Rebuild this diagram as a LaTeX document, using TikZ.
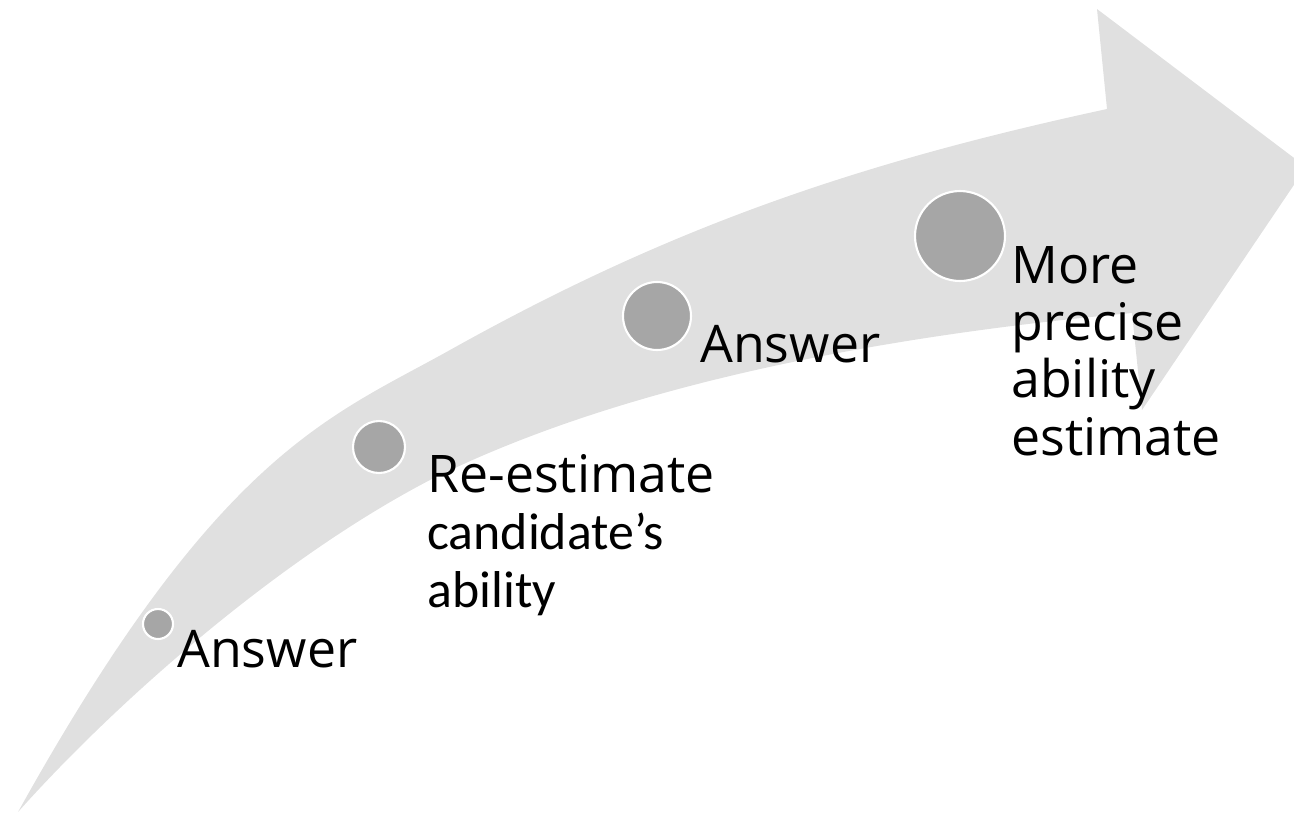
\documentclass[tikz,border=0pt]{standalone}
\usepackage{fontspec}
\setmainfont{Open Sans}
\newfontfamily\calib{Carlito}
\definecolor{arrowgray}{RGB}{224,224,224}
\definecolor{dotgray}{RGB}{166,166,166}
\tikzset{
  dot/.style={circle, fill=dotgray, draw=white, line width=1.2pt, inner sep=0pt},
  lbl/.style={anchor=base west, inner sep=0pt, align=left, font=\fontsize{29.5}{32.6}\selectfont}
}
\begin{document}
\begin{tikzpicture}[x=0.02cm,y=-0.02cm]
\useasboundingbox (0,0) rectangle (1294,816);
% curved arrow
\fill[arrowgray] (18,812) .. controls (218,452) and (330,417) .. (450,350)
  .. controls (670,227) and (857,163) .. (1107,109)
  -- (1097,9) -- (1306,167) -- (1142,410) -- (1132,313)
  .. controls (902,334) and (630,380) .. (430,480)
  .. controls (280,558) and (118,700) .. (18,812) -- cycle;
% steps
\foreach \x/\y/\d [count=\i] in {158/624/0.6, 379/447/1.04, 657/316/1.36, 960/236/1.8}
  \node[dot, minimum size=\d cm] (dot\i) at (\x,\y) {};
\node[lbl] (lbl1) at (177,667) {Answer};
\node[lbl] (lbl2) at (427,607) {Re-estimate\\{\calib candidate’s}\\{\calib ability}};
\node[lbl] (lbl3) at (700,362) {Answer};
\node[lbl] (lbl4) at (1011,455) {More\\precise\\ability\\estimate};
\end{tikzpicture}
\end{document}
